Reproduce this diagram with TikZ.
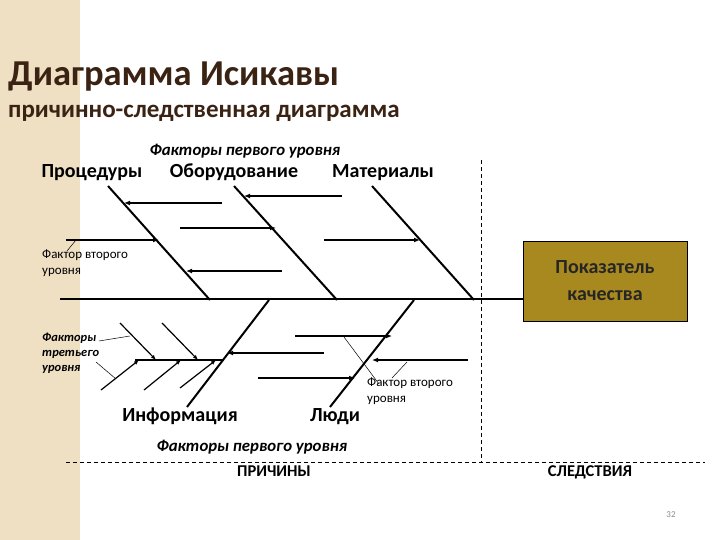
\documentclass[tikz,border=0pt]{standalone}
\usepackage{fontspec}
\setmainfont{Carlito}
\usetikzlibrary{arrows.meta}
\definecolor{beige}{HTML}{EFE0C4}
\definecolor{titlec}{HTML}{3B2314}
\definecolor{gold}{HTML}{A8891F}
\begin{document}
\begin{tikzpicture}[x=1pt,y=-1pt,
  bone/.style={line width=2pt},
  br/.style={line width=1.6pt},
  arr/.style={line width=1.6pt,-{Latex[length=6pt,width=5pt]}},
  thin/.style={line width=0.5pt},
  dsh/.style={line width=0.8pt,dash pattern=on 4pt off 3pt},
  lab/.style={font=\fontsize{20}{22}\selectfont\bfseries,anchor=base},
  sm/.style={font=\fontsize{13}{16}\selectfont,align=left,anchor=north west,inner sep=0},
  smi/.style={font=\fontsize{12.5}{15}\selectfont\itshape\bfseries,align=left,anchor=north west,inner sep=0}]
\useasboundingbox (0,0) rectangle (720,540);
\fill[white] (0,0) rectangle (720,540);
\fill[beige] (0,0) rectangle (80,540);
\node[anchor=base west,inner sep=0,text=titlec,font=\fontsize{36.5}{38}\selectfont\bfseries] (t1) at (8,86) {Диаграмма Исикавы};
\node[anchor=base west,inner sep=0,text=titlec,font=\fontsize{25}{27}\selectfont\bfseries] (t2) at (8,118) {причинно-следственная диаграмма};
% spine and box
\node[draw,line width=1pt,fill=gold,minimum width=164pt,minimum height=80pt,align=center,font=\fontsize{20}{27}\selectfont\bfseries,text=black!85] (box) at (605,281) {Показатель\\качества};
\coordinate (s0) at (60,299);
\draw[bone] (s0) -- (box.west |- s0);
% dashed
\coordinate (d1) at (481,160); \coordinate (d2) at (481,462);
\coordinate (h1) at (66,462); \coordinate (h2) at (705,462);
\draw[dsh] (d1) -- (d2); \draw[dsh] (h1) -- (h2);
% labels
\node[lab,font=\fontsize{16.8}{18}\selectfont\itshape\bfseries] (f1) at (245,156) {Факторы первого уровня};
\node[lab] (p) at (92,178) {Процедуры};
\node[lab] (o) at (234,178) {Оборудование};
\node[lab] (m) at (383,178) {Материалы};
\node[lab] (inf) at (180,421) {Информация};
\node[lab] (l) at (335,421) {Люди};
\node[lab,font=\fontsize{16.8}{18}\selectfont\itshape\bfseries] (f2) at (252,451) {Факторы первого уровня};
\node[lab,font=\fontsize{16.5}{18}\selectfont\bfseries] (pr) at (274,476) {ПРИЧИНЫ};
\node[lab,font=\fontsize{16.5}{18}\selectfont\bfseries] (sl) at (590,476) {СЛЕДСТВИЯ};
\node[font=\fontsize{9}{10}\selectfont,text=black!45] (n) at (671,515) {32};
% upper bones
\coordinate (a1) at (108,186); \coordinate (a2) at (210,300);
\coordinate (b1) at (234,186); \coordinate (b2) at (337,300);
\coordinate (c1) at (372,186); \coordinate (c2) at (474,300);
\draw[bone] (a1)--(a2); \draw[bone] (b1)--(b2); \draw[bone] (c1)--(c2);
\coordinate (q1) at (222,203); \coordinate (q2) at (124,203);
\draw[arr] (q1)--(q2);
\coordinate (q3) at (66,240); \coordinate (q4) at (159,240);
\draw[arr] (q3)--(q4);
\coordinate (q5) at (282,271); \coordinate (q6) at (186,271);
\draw[arr] (q5)--(q6);
\coordinate (q7) at (342,196); \coordinate (q8) at (244,196);
\draw[arr] (q7)--(q8);
\coordinate (q9) at (180,228); \coordinate (q10) at (276,228);
\draw[arr] (q9)--(q10);
\coordinate (q11) at (324,240); \coordinate (q12) at (420,240);
\draw[arr] (q11)--(q12);
\node[sm] (fv1) at (42,250) {Фактор второго\\уровня};
\coordinate (lk1) at (76,240); \coordinate (lk2) at (67,251);
\draw[thin] (lk1)--(lk2);
% lower bones
\coordinate (i1) at (269,300); \coordinate (i2) at (187,407);
\coordinate (j1) at (414,300); \coordinate (j2) at (330,407);
\draw[bone] (i1)--(i2); \draw[bone] (j1)--(j2);
\coordinate (r1) at (324,353); \coordinate (r2) at (227,353);
\draw[arr] (r1)--(r2);
\coordinate (sb1) at (135,360); \coordinate (sb2) at (224,360);
\draw[br] (sb1)--(sb2);
\foreach \xa/\ya/\xb/\yb [count=\k] in {120/323/156/360, 162/323/198/360, 101/390/139/360, 144/390/181/360, 180/388/216/360}
  {\coordinate (t\k a) at (\xa,\ya); \coordinate (t\k b) at (\xb,\yb);
   \draw[line width=1.2pt,-{Latex[length=5pt,width=4pt]}] (t\k a)--(t\k b);}
\node[smi] (f3) at (42,333) {Факторы\\третьего\\уровня};
\coordinate (m1) at (99,341); \coordinate (m2) at (130,336);
\coordinate (m3) at (96,362); \coordinate (m4) at (116,379);
\draw[thin] (m1)--(m2); \draw[thin] (m3)--(m4);
\coordinate (u1) at (295,336); \coordinate (u2) at (392,336);
\draw[arr] (u1)--(u2);
\coordinate (u3) at (468,360); \coordinate (u4) at (372,360);
\draw[arr] (u3)--(u4);
\coordinate (u5) at (258,378); \coordinate (u6) at (355,378);
\draw[arr] (u5)--(u6);
\node[sm] (fv2) at (367,378) {Фактор второго\\уровня};
\coordinate (n1) at (344,337); \coordinate (n2) at (379,384);
\coordinate (n3) at (407,362); \coordinate (n4) at (392,378);
\draw[thin] (n1)--(n2); \draw[thin] (n3)--(n4);
\end{tikzpicture}
\end{document}
